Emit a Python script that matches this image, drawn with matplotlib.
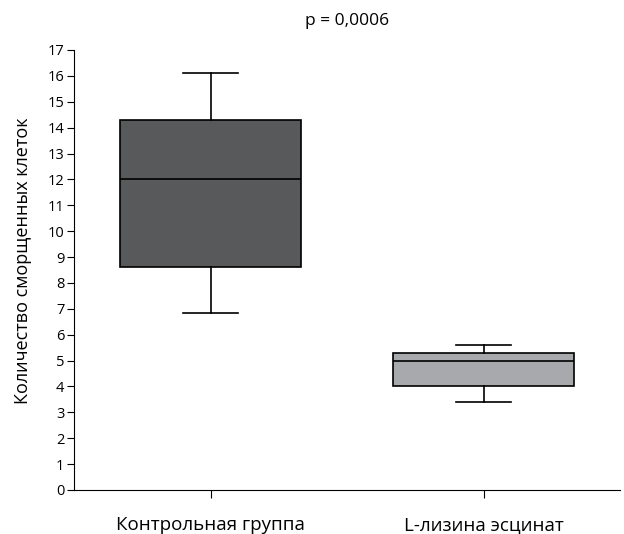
import matplotlib.pyplot as plt

# box statistics
groups = ['Контрольная группа', 'L-лизина эсцинат']
whislo = [6.84, 3.41]
q1 = [8.6, 4.02]
med = [12.02, 5.0]
q3 = [14.3, 5.29]
whishi = [16.1, 5.61]
colors = ['#58595b', '#a7a9ac']

plt.rcParams['font.family'] = ['Open Sans', 'DejaVu Sans']

fig = plt.figure(figsize=(6.24, 5.34), dpi=100)
ax = fig.add_axes([0.1186, 0.0824, 0.875, 0.824])

stats = []
for i in range(len(groups)):
    stats.append({'whislo': whislo[i], 'q1': q1[i], 'med': med[i],
                  'q3': q3[i], 'whishi': whishi[i], 'fliers': [],
                  'label': groups[i]})

bp = ax.bxp(stats, positions=[1, 2], widths=0.66, patch_artist=True,
            showfliers=False,
            boxprops=dict(edgecolor='black', linewidth=1.2),
            medianprops=dict(color='black', linewidth=1.2),
            whiskerprops=dict(color='black', linewidth=1.2),
            capprops=dict(color='black', linewidth=1.2),
            capwidths=0.2)
for patch, c in zip(bp['boxes'], colors):
    patch.set_facecolor(c)

ax.set_xlim(0.5, 2.5)
ax.set_ylim(0, 17)
ax.set_yticks(range(0, 18))
ax.spines['top'].set_visible(False)
ax.spines['right'].set_visible(False)
ax.tick_params(axis='y', direction='out', length=5, labelsize=10.5, pad=2)
ax.tick_params(axis='x', direction='out', length=6, labelsize=13.5, pad=13)
ax.set_ylabel('Количество сморщенных клеток', fontsize=13, labelpad=9)
ax.yaxis.set_label_coords(-0.077, 0.52)
ax.set_title('p = 0,0006', fontsize=12.5, pad=18)

fig.savefig('out.png', dpi=100)
